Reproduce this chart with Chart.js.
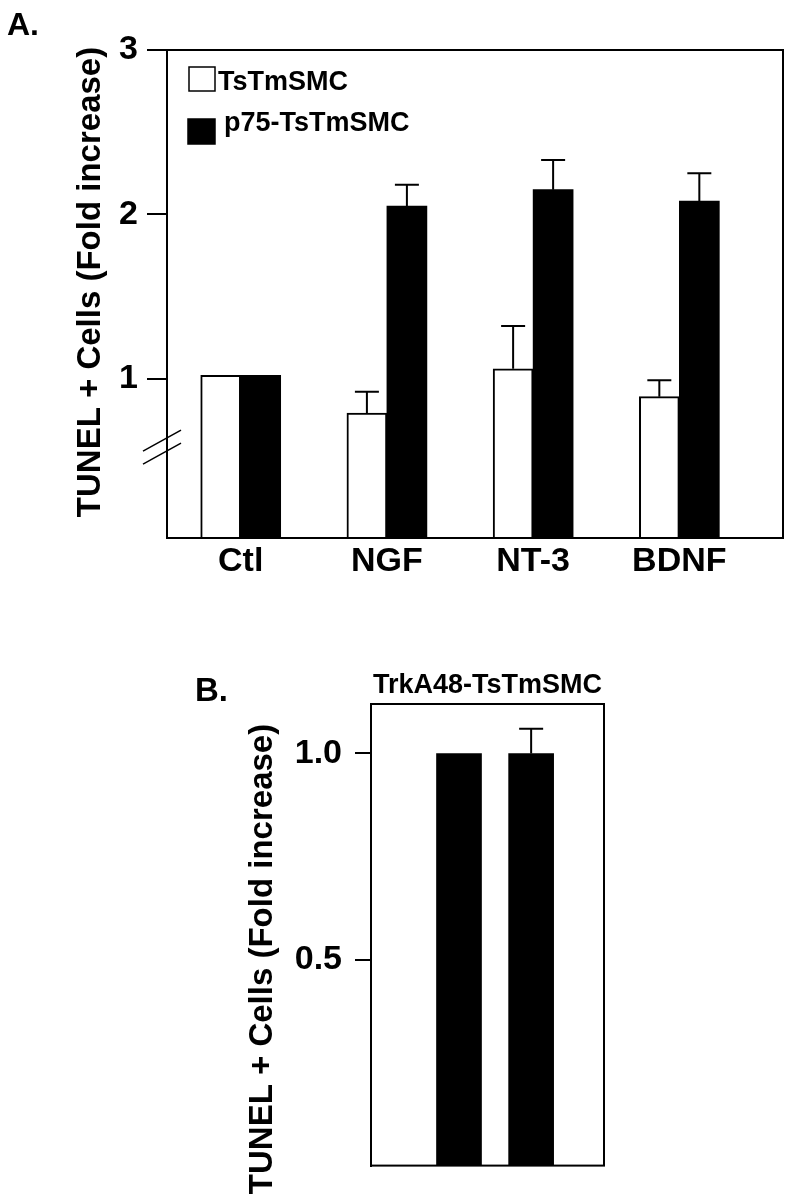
<!DOCTYPE html>
<html>
<head>
<meta charset="utf-8">
<script src="https://cdn.jsdelivr.net/npm/chart.js@4"></script>
<style>
  body { margin: 0; background: #fff; }
  .wrap { position: absolute; left: 0; width: 791px; }
  #wrapA { top: 0; height: 620px; }
  #wrapB { top: 640px; height: 559px; }
</style>
</head>
<body>
<div class="wrap" id="wrapA"><canvas id="chartA"></canvas></div>
<div class="wrap" id="wrapB"><canvas id="chartB"></canvas></div>
<script>
// panel A
const categories = ['Ctl', 'NGF', 'NT-3', 'BDNF'];
const seriesNames = ['TsTmSMC', 'p75-TsTmSMC'];
const plainVals = [1.02, 0.79, 1.06, 0.89];
const plainErr = [null, 0.92, 1.32, 0.99]; // top of error bar
const p75Vals = [1.02, 2.05, 2.15, 2.08];
const p75Err = [null, 2.18, 2.33, 2.25];
const yTicksA = [1, 2, 3];

// panel B
const trkTitle = 'TrkA48-TsTmSMC';
const trkVals = [1.0, 1.0];
const trkErr = [null, 1.06];
const yTicksB = [0.5, 1.0];

const yTitle = 'TUNEL + Cells (Fold increase)';

const FONT = '"Liberation Sans", Arial, Helvetica, sans-serif';
Chart.defaults.font.family = FONT;
Chart.defaults.color = '#000';

const font = (size) => `bold ${size}px ${FONT}`;

// frame, error bars, axis break, legend and loose text
const decor = {
  id: 'decor',
  afterDatasetsDraw(chart, args, opts) {
    const { ctx, chartArea: a } = chart;
    const y = chart.scales.y;
    ctx.save();
    ctx.strokeStyle = '#000';
    ctx.lineWidth = 2;
    ctx.strokeRect(a.left, a.top, a.right - a.left, a.bottom - a.top);

    chart.data.datasets.forEach((ds, di) => {
      if (!ds.errors) return;
      chart.getDatasetMeta(di).data.forEach((bar, i) => {
        const e = ds.errors[i];
        if (e == null) return;
        const top = y.getPixelForValue(e);
        ctx.beginPath();
        ctx.moveTo(bar.x, bar.y);
        ctx.lineTo(bar.x, top);
        ctx.moveTo(bar.x - 12, top);
        ctx.lineTo(bar.x + 12, top);
        ctx.stroke();
      });
    });

    if (opts.breakAt != null) {
      const by = y.getPixelForValue(opts.breakAt);
      ctx.lineWidth = 1.5;
      [-6.5, 6.5].forEach(off => {
        ctx.beginPath();
        ctx.moveTo(a.left - 24, by + off + 10);
        ctx.lineTo(a.left + 14, by + off - 11);
        ctx.stroke();
      });
    }

    if (opts.legend) {
      chart.data.datasets.forEach((ds, di) => {
        const L = opts.legend[di];
        ctx.fillStyle = ds.backgroundColor;
        ctx.fillRect(L.box[0], L.box[1], L.box[2], L.box[3]);
        ctx.lineWidth = 1.5;
        ctx.strokeRect(L.box[0], L.box[1], L.box[2], L.box[3]);
        ctx.fillStyle = '#000';
        ctx.font = font(L.size);
        ctx.textAlign = 'left';
        ctx.textBaseline = 'alphabetic';
        ctx.fillText(ds.label, L.x, L.y);
      });
    }

    (opts.texts || []).forEach(t => {
      ctx.save();
      ctx.fillStyle = '#000';
      ctx.font = font(t.size);
      ctx.textAlign = t.align || 'left';
      ctx.textBaseline = 'alphabetic';
      ctx.translate(t.x, t.y);
      if (t.rotate) ctx.rotate(t.rotate);
      ctx.fillText(t.text, 0, 0);
      ctx.restore();
    });
    ctx.restore();
  }
};

new Chart(document.getElementById('chartA'), {
  type: 'bar',
  data: {
    datasets: [
      {
        label: seriesNames[0],
        data: plainVals.map((v, i) => ({ x: i, y: v })),
        errors: plainErr,
        backgroundColor: '#fff',
        borderColor: '#000',
        borderWidth: 2,
        borderSkipped: false,
        barThickness: 40
      },
      {
        label: seriesNames[1],
        data: p75Vals.map((v, i) => ({ x: i, y: v })),
        errors: p75Err,
        backgroundColor: '#000',
        borderColor: '#000',
        borderWidth: 0,
        barThickness: 40
      }
    ]
  },
  options: {
    responsive: true,
    maintainAspectRatio: false,
    animation: false,
    layout: { padding: { left: 68, top: 50, right: 8, bottom: 32 } },
    scales: {
      x: {
        type: 'linear',
        offset: false,
        min: -0.504,
        max: 3.709,
        afterBuildTicks: s => { s.ticks = categories.map((c, i) => ({ value: i })); },
        afterFit: s => { s.height = 50; },
        grid: { display: false, drawTicks: false },
        border: { display: false },
        ticks: {
          padding: 3,
          autoSkip: false,
          maxRotation: 0,
          font: { size: 34, weight: 'bold' },
          callback: v => categories[v] ?? ''
        }
      },
      y: {
        min: 0.03,
        max: 3,
        afterBuildTicks: s => { s.ticks = yTicksA.map(v => ({ value: v })); },
        afterFit: s => { s.width = 99; },
        grid: { drawOnChartArea: false, drawTicks: true, tickLength: 20, color: '#000', lineWidth: 2 },
        border: { display: true, color: '#000', width: 2 },
        ticks: { padding: 9, font: { size: 34, weight: 'bold' } }
      }
    },
    plugins: {
      legend: { display: false },
      tooltip: { enabled: false },
      decor: {
        breakAt: 0.58,
        legend: [
          { box: [189, 67, 26, 24], x: 218, y: 90, size: 27 },
          { box: [188, 119, 27, 25], x: 224, y: 131, size: 27 }
        ],
        texts: [
          { text: 'A.', x: 7, y: 35, size: 32 },
          { text: yTitle, x: 100, y: 282, size: 33, align: 'center', rotate: -Math.PI / 2 }
        ]
      }
    }
  },
  plugins: [decor]
});

new Chart(document.getElementById('chartB'), {
  type: 'bar',
  data: {
    datasets: [
      {
        label: trkTitle,
        data: trkVals.map((v, i) => ({ x: i, y: v })),
        errors: trkErr,
        backgroundColor: '#000',
        borderColor: '#000',
        borderWidth: 0,
        barThickness: 45
      }
    ]
  },
  options: {
    responsive: true,
    maintainAspectRatio: false,
    animation: false,
    layout: { padding: { left: 200, top: 64, right: 187, bottom: 8 } },
    scales: {
      x: { type: 'linear', display: false, offset: false, min: -1.22, max: 2.01 },
      y: {
        min: 0,
        max: 1.12,
        afterBuildTicks: s => { s.ticks = yTicksB.map(v => ({ value: v })); },
        afterFit: s => { s.width = 171; },
        grid: { drawOnChartArea: false, drawTicks: true, tickLength: 16, color: '#000', lineWidth: 2 },
        border: { display: true, color: '#000', width: 2 },
        ticks: { padding: 13, font: { size: 34, weight: 'bold' }, callback: v => v.toFixed(1) }
      }
    },
    plugins: {
      legend: { display: false },
      tooltip: { enabled: false },
      decor: {
        texts: [
          { text: 'B.', x: 195, y: 61, size: 33 },
          { text: trkTitle, x: 487.5, y: 53, size: 27, align: 'center' },
          { text: yTitle, x: 272, y: 319, size: 33, align: 'center', rotate: -Math.PI / 2 }
        ]
      }
    }
  },
  plugins: [decor]
});
</script>
</body>
</html>
